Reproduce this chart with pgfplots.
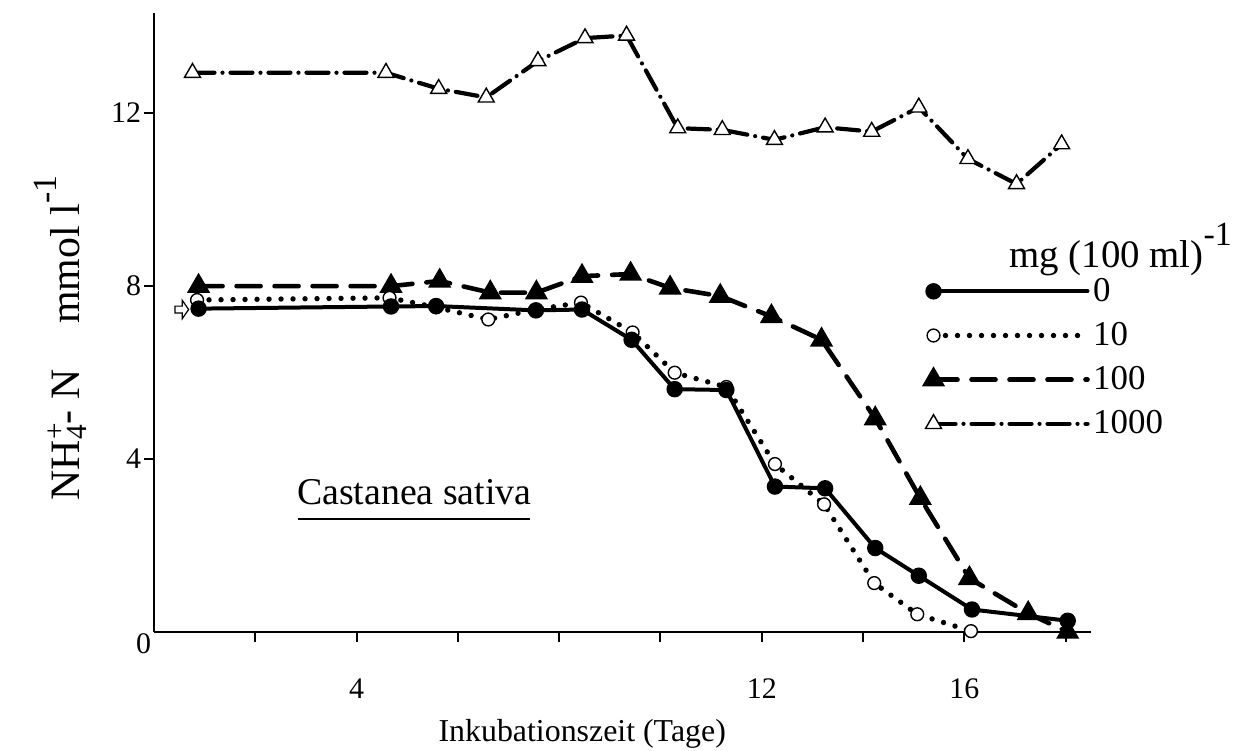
\documentclass[border=0pt]{standalone}
\usepackage{fontspec}
\setmainfont{Liberation Serif}
\usepackage{pgfplots}
\pgfplotsset{compat=1.18}

\pgfdeclareplotmark{openarrow}{%
  \pgfpathmoveto{\pgfqpoint{-3.4bp}{-1.7bp}}%
  \pgfpathlineto{\pgfqpoint{0.2bp}{-1.7bp}}%
  \pgfpathlineto{\pgfqpoint{0.2bp}{-4.6bp}}%
  \pgfpathlineto{\pgfqpoint{3.4bp}{0bp}}%
  \pgfpathlineto{\pgfqpoint{0.2bp}{4.6bp}}%
  \pgfpathlineto{\pgfqpoint{0.2bp}{1.7bp}}%
  \pgfpathlineto{\pgfqpoint{-3.4bp}{1.7bp}}%
  \pgfpathclose
  \pgfusepathqfillstroke}

\begin{document}
\begin{tikzpicture}
\path[use as bounding box] (-77bp,-59.5bp) rectangle (553bp,316bp);
\begin{axis}[
  at={(0,0)}, anchor=south west,
  width=468.5bp, height=309.5bp, scale only axis,
  xmin=0, xmax=18.5, ymin=0, ymax=14.3,
  axis lines=left, axis line style={-, line width=1bp},
  clip=false,
  tick align=outside, major tick length=5bp,
  tick style={line width=1bp, black},
  xtick={2,4,...,18}, xticklabels={,4,,,,12,,16,},
  ytick={4,8,12},
  extra y ticks={0}, extra y tick labels={0},
  extra y tick style={major tick length=0pt, tick label style={yshift=-6bp}},
  tick label style={font=\fontsize{15}{16}\selectfont},
  /pgf/number format/assume math mode=true,
  xticklabel style={yshift=-15bp},
  yticklabel style={xshift=2bp},
  xlabel={Inkubationszeit (Tage)},
  xlabel style={at={(axis description cs:0.457,-0.165)}, anchor=center, font=\fontsize{16}{18}\selectfont},
  ylabel={NH\rlap{\textsuperscript{+}}\textsubscript{4}- N\hspace{1.1em}mmol l\raisebox{0.55em}{\fontsize{17}{18}\selectfont -1}},
  ylabel style={at={(axis description cs:-0.10,0.475)}, anchor=center, font=\fontsize{21}{24}\selectfont},
  legend style={at={(rel axis cs:0.823,0.577)}, anchor=north west, draw=none, fill=none,
    font=\fontsize{17.5}{20}\selectfont, row sep=6bp, inner sep=0pt, nodes={inner sep=1.5bp}},
  legend cell align=left,
  legend image code/.code={\draw[#1, mark repeat=2, mark phase=1] plot coordinates {(0bp,0bp) (77bp,0bp)};},
  reverse legend,
]
% 1000
\addplot[black, line width=2.1bp, line cap=round, dash pattern=on 11bp off 4bp on 0bp off 4bp,
  mark=triangle*, mark size=4.6bp, mark options={solid, fill=white, line width=0.7bp}]
  coordinates {(0.76,12.92) (4.58,12.92) (5.62,12.55) (6.56,12.35) (7.58,13.19) (8.51,13.72)
  (9.33,13.78) (10.34,11.64) (11.22,11.60) (12.25,11.37) (13.25,11.66) (14.17,11.56)
  (15.10,12.12) (16.07,10.93) (17.03,10.35) (17.92,11.27)};
\addlegendentry{1000}
% 100
\addplot[black, line width=2.3bp, line cap=round, dash pattern=on 12bp off 7bp,
  mark=triangle*, mark size=4.4bp, mark options={solid}]
  coordinates {(0.88,7.99) (4.68,7.99) (5.64,8.11) (6.64,7.84) (7.55,7.84) (8.45,8.22)
  (9.41,8.27) (10.19,7.95) (11.18,7.76) (12.19,7.29) (13.18,6.75) (14.24,4.93)
  (15.13,3.09) (16.10,1.24) (17.26,0.43) (18.04,0.0)};
\addlegendentry{100}
% 10
\addplot[black, line width=2.7bp, line cap=round, dash pattern=on 0bp off 6bp,
  mark=*, mark size=3.2bp, mark options={solid, fill=white, line width=0.7bp}]
  coordinates {(0.85,7.67) (4.65,7.72) (5.57,7.50) (6.60,7.22) (7.54,7.45) (8.43,7.61)
  (9.45,6.92) (10.28,5.99) (11.30,5.66) (12.26,3.88) (13.23,2.95) (14.22,1.13)
  (15.07,0.41) (16.13,0.02)};
\addlegendentry{10}
% 0
\addplot[black, line width=2bp, line cap=round, mark=*, mark size=3.1bp, mark options={solid}]
  coordinates {(0.88,7.47) (4.68,7.52) (5.57,7.53) (7.54,7.43) (8.45,7.45) (9.43,6.75)
  (10.28,5.61) (11.30,5.59) (12.26,3.36) (13.25,3.32) (14.24,1.94) (15.10,1.30)
  (16.15,0.52) (18.04,0.26)};
\addlegendentry{0}
% start arrow
\addplot[only marks, mark=openarrow, mark options={fill=white, draw=black, line width=0.6bp}, forget plot]
  coordinates {(0.55,7.45)};
\node[anchor=base west, font=\fontsize{19.5}{22}\selectfont] at (axis cs:16.75,8.43) {mg (100 ml)\raisebox{0.55em}{\fontsize{17}{18}\selectfont -1}};
\node[anchor=base, font=\fontsize{19}{22}\selectfont] at (axis cs:5.14,2.94) {Castanea sativa};
\draw[line width=1bp] (axis cs:2.85,2.62) -- (axis cs:7.43,2.62);
\end{axis}
\end{tikzpicture}
\end{document}
